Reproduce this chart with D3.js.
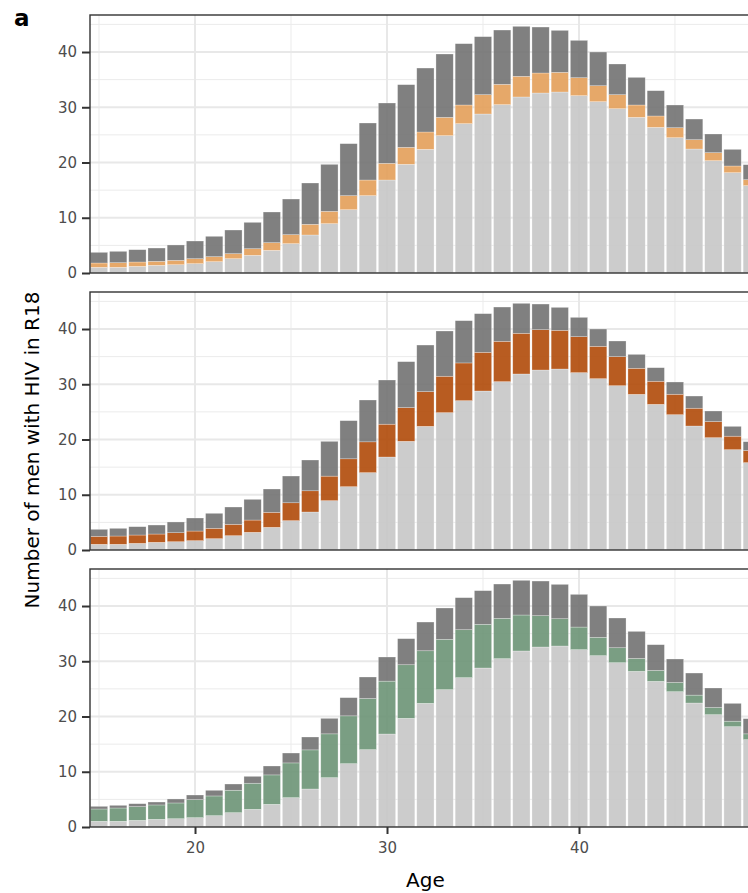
<!DOCTYPE html>
<html>
<head>
<meta charset="utf-8">
<script src="https://cdn.jsdelivr.net/npm/d3@7"></script>
<style>
  body { margin: 0; background: #fff; }
  svg { display: block; }
  text { font-family: "DejaVu Sans", sans-serif; }
</style>
</head>
<body>
<svg id="chart" width="748" height="893"></svg>
<script>
// Age of participant (single years)
const ages = [15, 16, 17, 18, 19, 20, 21, 22, 23, 24, 25, 26, 27, 28, 29, 30, 31, 32,
              33, 34, 35, 36, 37, 38, 39, 40, 41, 42, 43, 44, 45, 46, 47, 48, 49];

// Total number of men with HIV in R18 at each age
const totalCounts = [3.74, 3.92, 4.22, 4.52, 5.07, 5.79, 6.64, 7.78, 9.17, 11.04, 13.39, 16.29,
                     19.67, 23.41, 27.15, 30.77, 34.09, 37.10, 39.64, 41.51, 42.78, 43.98, 44.65,
                     44.52, 43.92, 42.11, 40.00, 37.83, 35.41, 33.00, 30.41, 27.87, 25.16, 22.38, 19.61];

// Bottom (light grey) segment, shared by all three panels
const baseCounts = [1.03, 1.03, 1.20, 1.39, 1.50, 1.69, 2.05, 2.59, 3.20, 4.10, 5.31, 6.88,
                    8.93, 11.46, 14.00, 16.83, 19.67, 22.38, 24.86, 27.03, 28.78, 30.47, 31.86,
                    32.58, 32.76, 32.10, 31.01, 29.74, 28.17, 26.36, 24.49, 22.44, 20.33, 18.16, 15.81];

// Highlighted middle segment, one series per panel
const orangeCounts = [0.78, 0.84, 0.79, 0.72, 0.79, 0.90, 0.91, 0.91, 1.20, 1.39, 1.63, 1.93,
                      2.23, 2.54, 2.83, 3.02, 3.08, 3.14, 3.31, 3.38, 3.50, 3.68, 3.74,
                      3.62, 3.56, 3.25, 2.89, 2.54, 2.24, 2.06, 1.81, 1.69, 1.45, 1.21, 1.08];
const rustCounts = [1.44, 1.50, 1.51, 1.50, 1.63, 1.74, 1.87, 2.05, 2.22, 2.71, 3.24, 3.84,
                    4.44, 5.05, 5.58, 5.94, 6.11, 6.29, 6.59, 6.83, 7.00, 7.30, 7.36,
                    7.30, 7.00, 6.51, 5.86, 5.26, 4.72, 4.18, 3.70, 3.22, 2.92, 2.44, 2.20];
const greenCounts = [2.23, 2.41, 2.49, 2.60, 2.85, 3.26, 3.57, 4.06, 4.72, 5.33, 6.29, 7.08,
                     7.93, 8.66, 9.26, 9.57, 9.70, 9.52, 9.10, 8.68, 7.90, 7.29, 6.51,
                     5.67, 4.94, 4.09, 3.31, 2.71, 2.34, 1.98, 1.67, 1.43, 1.30, 0.99, 1.05];

const yTicks = [0, 10, 20, 30, 40];
const yMinor = [5, 15, 25, 35, 45];
const xTicks = [20, 30, 40];
const xMinor = [15, 25, 35, 45];

const panelSeries = [
  { mid: orangeCounts, color: "#e39e59" },
  { mid: rustCounts,   color: "#b04a09" },
  { mid: greenCounts,  color: "#6b9375" }
];

const lightGrey = "#c6c6c6";
const darkGrey = "#727272";

const svg = d3.select("#chart");

const left = 90, right = 760.8;
const panelH = 258, panelTop0 = 15, panelStep = 277;

const x = d3.scaleLinear().domain([14.53, 49.47]).range([left, right]);
const y = d3.scaleLinear().domain([0, 46.7]).range([panelH, 0]);
const barHalf = 0.45;

svg.append("defs").append("clipPath").attr("id", "panel-clip")
  .append("rect").attr("x", left).attr("y", 0).attr("width", right - left).attr("height", panelH);

panelSeries.forEach((p, i) => {
  const g = svg.append("g").attr("transform", `translate(0,${panelTop0 + i * panelStep})`);
  const plot = g.append("g").attr("clip-path", "url(#panel-clip)");

  // grid
  plot.selectAll(".ymin").data(yMinor).join("line")
    .attr("x1", left).attr("x2", right).attr("y1", d => y(d)).attr("y2", d => y(d))
    .attr("stroke", "#ebebeb").attr("stroke-width", 1);
  plot.selectAll(".xmin").data(xMinor).join("line")
    .attr("y1", 0).attr("y2", panelH).attr("x1", d => x(d)).attr("x2", d => x(d))
    .attr("stroke", "#ebebeb").attr("stroke-width", 1);
  plot.selectAll(".ymaj").data(yTicks).join("line")
    .attr("x1", left).attr("x2", right).attr("y1", d => y(d)).attr("y2", d => y(d))
    .attr("stroke", "#e8e8e8").attr("stroke-width", 2);
  plot.selectAll(".xmaj").data(xTicks).join("line")
    .attr("y1", 0).attr("y2", panelH).attr("x1", d => x(d)).attr("x2", d => x(d))
    .attr("stroke", "#e8e8e8").attr("stroke-width", 2);

  // stacked bars: base, highlighted middle, remainder on top
  const rows = ages.map((a, k) => ({
    age: a,
    base: baseCounts[k],
    mid: p.mid[k],
    rest: totalCounts[k] - baseCounts[k] - p.mid[k]
  }));
  const stack = d3.stack().keys(["base", "mid", "rest"])(rows);
  const fills = { base: lightGrey, mid: p.color, rest: darkGrey };

  plot.selectAll(".layer").data(stack).join("g")
    .attr("fill", d => fills[d.key])
    .selectAll("rect").data(d => d).join("rect")
      .attr("x", d => x(d.data.age - barHalf))
      .attr("width", d => x(d.data.age + barHalf) - x(d.data.age - barHalf))
      .attr("y", d => y(d[1]))
      .attr("height", d => y(d[0]) - y(d[1]))
      .attr("fill-opacity", 0.9)
      .attr("stroke", "#ffffff").attr("stroke-opacity", 0.45).attr("stroke-width", 0.6);

  // panel border
  g.append("rect").attr("x", left).attr("y", 0).attr("width", right - left).attr("height", panelH)
    .attr("fill", "none").attr("stroke", "#333333").attr("stroke-width", 1.4);

  // y axis
  const ya = g.append("g").attr("transform", `translate(${left},0)`)
    .call(d3.axisLeft(y).tickValues(yTicks).tickSize(8).tickPadding(5));
  ya.select(".domain").remove();
  ya.selectAll(".tick line").attr("stroke", "#333333").attr("stroke-width", 2);
  ya.selectAll(".tick text").attr("fill", "#4d4d4d").style("font-size", "15px")
    .style("font-family", "'DejaVu Sans', sans-serif");

  if (i === panelSeries.length - 1) {
    const xa = g.append("g").attr("transform", `translate(0,${panelH})`)
      .call(d3.axisBottom(x).tickValues(xTicks).tickSize(7).tickPadding(8));
    xa.select(".domain").remove();
    xa.selectAll(".tick line").attr("stroke", "#333333").attr("stroke-width", 2);
    xa.selectAll(".tick text").attr("fill", "#4d4d4d").style("font-size", "15px")
      .style("font-family", "'DejaVu Sans', sans-serif");
  }
});

// axis titles and panel tag
svg.append("text").attr("x", (left + right) / 2).attr("y", 887)
  .attr("text-anchor", "middle").attr("fill", "#000").style("font-size", "20px").text("Age");

svg.append("text").attr("transform", "translate(39,450) rotate(-90)")
  .attr("text-anchor", "middle").attr("fill", "#000").style("font-size", "20px")
  .text("Number of men with HIV in R18");

svg.append("text").attr("x", 14).attr("y", 26)
  .attr("fill", "#000").style("font-size", "23px").style("font-weight", "bold").text("a");
</script>
</body>
</html>
